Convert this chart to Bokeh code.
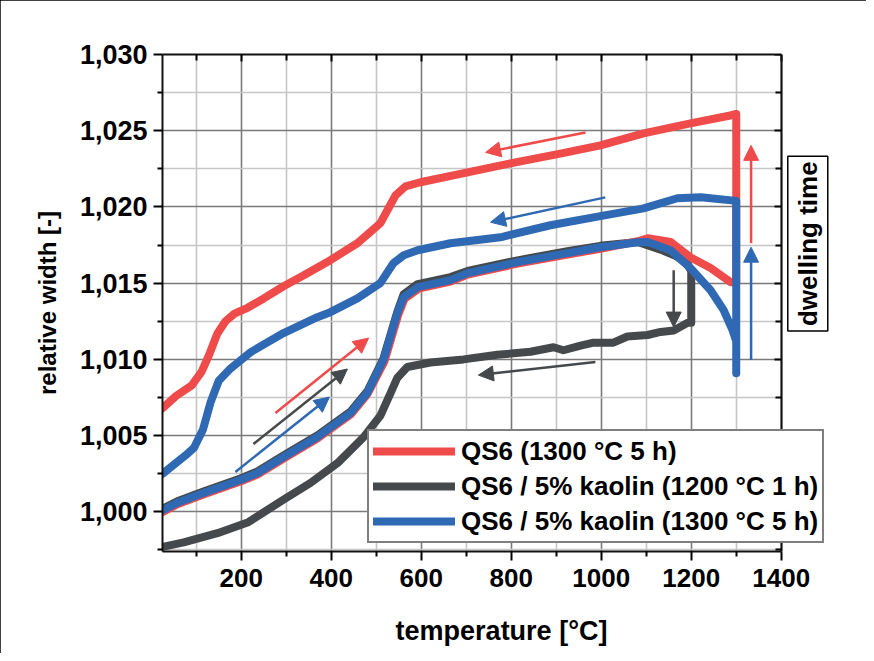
from bokeh.plotting import figure
from bokeh.models import (Range1d, FixedTicker, LinearAxis, CustomJSTickFormatter, Legend,
                          LegendItem, Arrow, NormalHead, Label)
from bokeh.embed import file_html
from bokeh.resources import INLINE

FONT = "Liberation Sans"
RED = "#ef4b4b"
GREY = "#45494b"
BLUE = "#2f69b3"

# ---------------- data ----------------
# QS6 (1300 °C 5 h): heating, dwelling, cooling
qs6_T = [25, 58, 116, 198, 236, 294, 369, 443, 480, 518, 549, 563, 594, 665, 703, 814, 925, 998,
         1081, 1103, 1154, 1198, 1243, 1287, 1300,
         1300, 1287, 1198, 1094, 998, 909, 798, 703, 598, 565, 543, 509, 458, 398, 338, 294, 250,
         215, 185, 165, 147, 130, 112, 90, 55, 25]
qs6_W = [0.99998, 1.0005, 1.00114, 1.00199, 1.00245, 1.0035, 1.00481, 1.00638, 1.0077, 1.00986,
         1.01294, 1.01398, 1.01464, 1.0151, 1.01556, 1.01628, 1.01687, 1.01726,
         1.01775, 1.01795, 1.0177, 1.0167, 1.0160, 1.01507, 1.0150,
         1.0261, 1.0260, 1.02548, 1.02483, 1.02404, 1.0235, 1.02286, 1.02227, 1.02162, 1.02135,
         1.02077, 1.01893, 1.01762, 1.01651, 1.0155, 1.0148, 1.0140,
         1.0134, 1.0130, 1.0125, 1.0117, 1.0104, 1.0092, 1.0083, 1.0076, 1.0068]

# QS6 / 5% kaolin (1200 °C 1 h)
kao1200_T = [25, 58, 116, 198, 236, 294, 369, 443, 480, 516, 547, 561, 592, 665, 703, 814, 925, 998,
             1081, 1132, 1165, 1190, 1200, 1200,
             1192, 1161, 1132, 1103, 1058, 1027, 983, 954, 916, 894, 843, 769, 694, 620, 569, 547,
             532, 509, 472, 414, 354, 294, 214, 147, 72, 25]
kao1200_W = [1.0002, 1.0007, 1.00134, 1.00219, 1.00265, 1.0037, 1.00501, 1.00658, 1.0079, 1.01006,
             1.01314, 1.01428, 1.01494, 1.0154, 1.0158, 1.0165, 1.0171, 1.01745,
             1.0177, 1.0172, 1.0168, 1.0163, 1.0158, 1.0124,
             1.0124, 1.0119, 1.0118, 1.0116, 1.0115, 1.0111, 1.0111, 1.0109, 1.0106, 1.0108,
             1.0105, 1.0103, 1.0100, 1.0098, 1.0095, 1.0088,
             1.0078, 1.0063, 1.0049, 1.0032, 1.0019, 1.0008, 0.9993, 0.9986, 0.9980, 0.9977]

# QS6 / 5% kaolin (1300 °C 5 h)
kao1300_T = [25, 58, 116, 198, 236, 294, 369, 443, 480, 516, 547, 561, 592, 665, 703, 814, 925, 998,
             1081, 1103, 1154, 1198, 1243, 1272, 1292, 1300, 1300,
             1300, 1221, 1169, 1094, 998, 887, 776, 665, 592, 561, 538, 509, 458, 398, 369, 294,
             221, 176, 150, 132, 115, 95, 76, 25]
kao1300_W = [1.0001, 1.0006, 1.00124, 1.00209, 1.00255, 1.0036, 1.00491, 1.00648, 1.0078, 1.00996,
             1.01304, 1.01408, 1.01474, 1.0152, 1.01566, 1.01638, 1.01697, 1.01736,
             1.01769, 1.0177, 1.01716, 1.0160, 1.01454, 1.01323, 1.0119, 1.0112, 1.0091,
             1.0204, 1.02064, 1.02057, 1.01991, 1.0194, 1.0188, 1.01801, 1.01762, 1.01716, 1.01683,
             1.01631, 1.0150, 1.0140, 1.0131, 1.01277, 1.01173,
             1.01048, 1.0094, 1.0086, 1.0072, 1.0054, 1.0042, 1.0037, 1.0025]

series_labels = ["QS6 (1300 °C 5 h)", "QS6 / 5% kaolin (1200 °C 1 h)", "QS6 / 5% kaolin (1300 °C 5 h)"]

# direction arrows (heating / cooling / dwelling)
arrow_x0 = [276, 227, 187, 965, 1009, 987, 1161, 1333, 1333]
arrow_y0 = [1.00648, 1.00445, 1.00262, 1.02489, 1.02063, 1.00983, 1.01585, 1.01762, 1.00996]
arrow_x1 = [483, 436, 396, 743, 754, 727, 1161, 1333, 1333]
arrow_y1 = [1.0114, 1.00937, 1.00753, 1.02358, 1.0190, 1.00897, 1.01212, 1.02404, 1.01736]
arrow_col = [RED, GREY, BLUE, RED, BLUE, GREY, GREY, RED, BLUE]

dwell_text = "dwelling time"
dwell_x, dwell_y = 1459, 1.01759

x_major = [200, 400, 600, 800, 1000, 1200, 1400]
x_minor = [100, 300, 500, 700, 900, 1100, 1300]
y_major = [1.000, 1.005, 1.010, 1.015, 1.020, 1.025, 1.030]
y_minor = [0.9975, 1.0025, 1.0075, 1.0125, 1.0175, 1.0225, 1.0275]
x_lo, x_hi = 25, 1400
y_lo, y_hi = 0.9974, 1.030

# ---------------- figure ----------------
p = figure(width=866, height=653, x_range=Range1d(x_lo, 1531.7), y_range=Range1d(y_lo, y_hi),
           output_backend="svg", toolbar_location=None,
           min_border_left=162, min_border_right=26, min_border_top=54, min_border_bottom=102)
p.styles = {"outline": "1px solid black", "outline-offset": "-1px"}
p.outline_line_color = None

xt = FixedTicker(ticks=x_major, minor_ticks=x_minor)
yt = FixedTicker(ticks=y_major, minor_ticks=y_minor)
p.xaxis.ticker = xt
p.yaxis.ticker = yt
p.xgrid.ticker = xt
p.ygrid.ticker = yt
p.ygrid.cross_bounds = (x_lo, x_hi)
for g in (p.xgrid, p.ygrid):
    g.grid_line_color = "#7a7a7a"
    g.grid_line_width = 1.6
    g.minor_grid_line_color = "#c6c6c6"
    g.minor_grid_line_width = 1.6

p.yaxis.formatter = CustomJSTickFormatter(code="return tick.toFixed(3).replace('.', ',');")
p.xaxis.bounds = (x_lo, x_hi)

for ax in (p.xaxis[0], p.yaxis[0]):
    ax.axis_line_width = 2
    ax.axis_line_color = "#111111"
    ax.major_tick_line_width = 2
    ax.minor_tick_line_width = 2
    ax.major_tick_out = 9
    ax.major_tick_in = 0
    ax.minor_tick_out = 5
    ax.minor_tick_in = 0
    ax.major_label_text_font = FONT
    ax.major_label_text_font_style = "bold"
    ax.major_label_text_color = "black"
    ax.axis_label_text_font = FONT
    ax.axis_label_text_font_style = "bold"
    ax.axis_label_text_color = "black"

p.xaxis.major_label_text_font_size = "26px"
p.yaxis.major_label_text_font_size = "27px"
p.xaxis.axis_label = "temperature [°C]"
p.yaxis.axis_label = "relative width [-]"
p.xaxis.axis_label_text_font_size = "27px"
p.yaxis.axis_label_text_font_size = "24px"
p.xaxis.major_label_standoff = 8
p.yaxis.major_label_standoff = 6
p.xaxis.axis_label_standoff = 26
p.yaxis.axis_label_standoff = 16

top_ax = LinearAxis(ticker=xt, bounds=(x_lo, x_hi))
right_ax = LinearAxis(ticker=yt, fixed_location=x_hi)
for ax in (top_ax, right_ax):
    ax.axis_line_width = 2
    ax.axis_line_color = "#111111"
    ax.major_tick_line_width = 2
    ax.minor_tick_line_width = 2
    ax.major_tick_out = 0
    ax.major_tick_in = 7
    ax.minor_tick_out = 0
    ax.minor_tick_in = 6
    ax.major_label_text_color = None
    ax.major_label_standoff = 0
p.add_layout(top_ax, "above")
p.add_layout(right_ax, "right")

# curves: grey, red, blue (blue on top)
r_grey = p.line(kao1200_T, kao1200_W, line_color=GREY, line_width=8, line_join="round", line_cap="round")
r_red = p.line(qs6_T, qs6_W, line_color=RED, line_width=8, line_join="round", line_cap="round")
r_blue = p.line(kao1300_T, kao1300_W, line_color=BLUE, line_width=8, line_join="round", line_cap="round")

for x0, y0, x1, y1, c in zip(arrow_x0, arrow_y0, arrow_x1, arrow_y1, arrow_col):
    p.add_layout(Arrow(end=NormalHead(size=15, fill_color=c, line_color=c, line_width=1),
                       x_start=x0, y_start=y0, x_end=x1, y_end=y1,
                       line_color=c, line_width=2.5))

legend = Legend(items=[LegendItem(label=series_labels[0], renderers=[r_red]),
                       LegendItem(label=series_labels[1], renderers=[r_grey]),
                       LegendItem(label=series_labels[2], renderers=[r_blue])],
                location=(205, 8))
legend.label_text_font = FONT
legend.label_text_font_style = "bold"
legend.label_text_font_size = "26px"
legend.label_text_color = "black"
legend.glyph_width = 82
legend.glyph_height = 32
legend.label_height = 32
legend.label_standoff = 6
legend.spacing = 3
legend.padding = 4
legend.margin = 0
legend.border_line_color = "black"
legend.border_line_width = 2
legend.background_fill_alpha = 1
p.add_layout(legend)

p.add_layout(Label(x=dwell_x, y=dwell_y, text=dwell_text, angle=90, angle_units="deg",
                   text_align="center", text_baseline="middle", text_font=FONT,
                   text_font_style="bold", text_font_size="26px", text_color="black",
                   border_line_color="black", border_line_width=1.5,
                   background_fill_color="white", padding=5))

open("out.html", "w").write(file_html(p, INLINE))
